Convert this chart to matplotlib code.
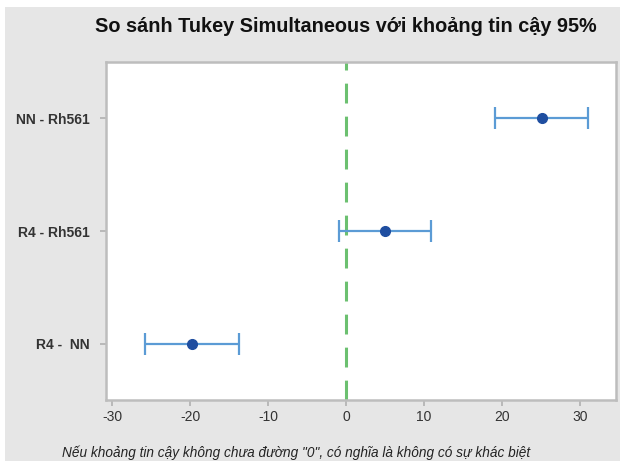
import matplotlib
matplotlib.use('Agg')
import matplotlib.pyplot as plt
from matplotlib.patches import Rectangle

# Tukey simultaneous 95% confidence intervals for pairwise differences
pairs = ['R4 -  NN', 'R4 - Rh561', 'NN - Rh561']
diff = [-19.8, 5.0, 25.1]
lower = [-25.8, -0.9, 19.1]
upper = [-13.8, 10.9, 31.0]
xticks = [-30, -20, -10, 0, 10, 20, 30]

title = 'So sánh Tukey Simultaneous với khoảng tin cậy 95%'
note = 'Nếu khoảng tin cậy không chưa đường "0", có nghĩa là không có sự khác biệt'

plt.rcParams['font.family'] = ['Liberation Sans', 'DejaVu Sans']

fig = plt.figure(figsize=(6.2, 4.61), dpi=100)
W, H = 620, 461

# grey panel behind everything
fig.patches.append(Rectangle((5 / W, 0), 1, 1 - 7 / H, transform=fig.transFigure,
                             facecolor='#e6e6e6', edgecolor='none', zorder=-1))

ax = fig.add_axes([106 / W, 1 - 400 / H, (616 - 106) / W, (400 - 62) / H])
ax.set_zorder(1)
ax.set_facecolor('white')

ypos = list(range(1, len(pairs) + 1))
xerr = [[d - lo for d, lo in zip(diff, lower)], [hi - d for d, hi in zip(diff, upper)]]
ax.errorbar(diff, ypos, xerr=xerr, fmt='none', ecolor='#5b9bd5', elinewidth=1.6,
            capsize=8, capthick=1.6, zorder=3)
ax.plot(diff, ypos, 'o', color='#1f4ea0', markersize=7, zorder=4)

ax.axvline(0, color='#6cc070', linestyle=(0, (6.5, 4.3)), linewidth=2.2, zorder=2)

ax.set_xlim(-30.8, 34.6)
ax.set_ylim(0.5, 3.5)
ax.set_xticks(xticks)
ax.set_xticklabels([str(t) for t in xticks], fontsize=10, color='#333333')
ax.set_yticks(ypos)
ax.set_yticklabels(pairs, fontsize=10, fontweight='bold', color='#333333')
ax.tick_params(axis='both', color='#b0b0b0', length=4, width=1.2)
ax.tick_params(axis='y', pad=8)
ax.tick_params(axis='x', pad=3)

for sp in ax.spines.values():
    sp.set_color('#bdbdbd')
    sp.set_linewidth(1.8)

fig.text(346 / W, 1 - 27 / H, title, ha='center', va='center',
         fontsize=14.3, fontweight='bold', color='#111111')
fig.text(62 / W, 1 - 453 / H, note, ha='left', va='center',
         fontsize=9.8, style='italic', color='#222222')

fig.savefig('out.png', dpi=100)
